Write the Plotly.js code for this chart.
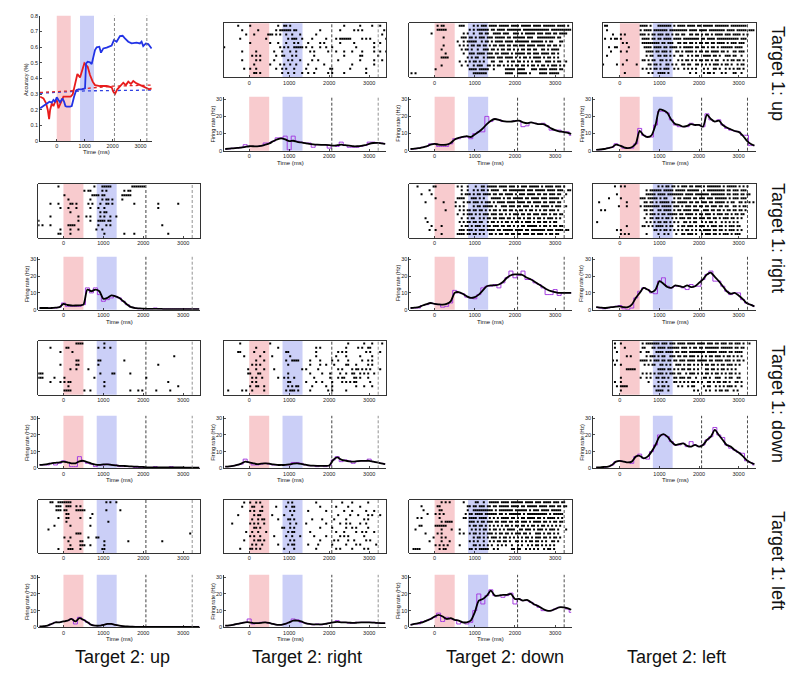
<!DOCTYPE html>
<html><head><meta charset="utf-8">
<script src="https://cdn.plot.ly/plotly-3.0.1.min.js"></script>
<style>html,body{margin:0;padding:0;background:#fff}#chart{width:800px;height:678px}</style>
</head><body><div id="chart"></div>
<script>
// ---------------- DATA ----------------
const TICKS_MS = [0, 1000, 2000, 3000];
const RATE_TICKS = [0, 10, 20, 30];
const ACC_TICKS = [0, 0.1, 0.2, 0.3, 0.4, 0.5, 0.6, 0.7, 0.8];
const ROW_LABELS = ['Target 1: up', 'Target 1: right', 'Target 1: down', 'Target 1: left'];
const COL_LABELS = ['Target 2: up', 'Target 2: right', 'Target 2: down', 'Target 2: left'];
const EPOCHS = {cue1: [0, 500], cue2: [833, 1333], delayArrow: [1375, 1817], go: 2065, end: 3225};

// accuracy panel
const ACC_BLUE_T = [-595,-476,-357,-262,-179,-119,-60,0,60,119,202,262,310,357,476,536,619,690,774,893,1012,1048,1107,1190,1250,1310,1369,1429,1524,1583,1667,1786,1964,2048,2143,2262,2357,2440,2560,2679,2857,2976,3036,3095,3190,3274,3393];
const ACC_BLUE = [0.209,0.223,0.240,0.251,0.245,0.262,0.251,0.279,0.262,0.247,0.272,0.251,0.223,0.219,0.219,0.223,0.283,0.321,0.330,0.330,0.336,0.496,0.506,0.502,0.491,0.538,0.581,0.598,0.602,0.564,0.591,0.596,0.609,0.645,0.634,0.670,0.672,0.655,0.634,0.623,0.628,0.623,0.634,0.606,0.623,0.619,0.591];
const ACC_RED_T = [-595,-476,-381,-321,-274,-238,-179,-119,-60,0,60,143,238,357,500,571,655,738,833,929,988,1048,1107,1190,1286,1369,1548,1786,1964,2024,2083,2167,2262,2381,2476,2560,2655,2738,2857,2976,3095,3214,3310,3393];
const ACC_RED = [0.283,0.272,0.240,0.198,0.140,0.198,0.240,0.223,0.251,0.262,0.209,0.240,0.283,0.283,0.283,0.298,0.372,0.428,0.406,0.464,0.496,0.485,0.474,0.421,0.379,0.357,0.351,0.351,0.343,0.315,0.300,0.330,0.351,0.372,0.357,0.379,0.364,0.383,0.368,0.357,0.351,0.336,0.330,0.336];
const CHANCE_RED_T = [-600, 500, 1000, 2000, 3400];
const CHANCE_RED = [0.310, 0.320, 0.335, 0.350, 0.357];
const CHANCE_BLUE_T = [-600, 1000, 3400];
const CHANCE_BLUE = [0.305, 0.320, 0.325];
const ACC_MARK_T = [1800];
const ACC_MARK = [0.805];

// firing-rate time grid (ms)
const RATE_TIME = [-600,-500,-400,-300,-200,-100,0,100,200,300,400,500,600,700,800,900,1000,1100,1200,1300,1400,1500,1600,1700,1800,1900,2000,2100,2200,2300,2400,2500,2600,2700,2800,2900,3000,3100,3200,3300,3400];

const RATE_UP_RIGHT = [1,1.2,1.4,1.6,1.8,2.2,2.6,2.6,2.5,2.8,3.5,4.2,5.5,6.6,7.2,6.6,5.6,5.8,5.2,4.8,4.4,4,3.7,3.5,3.4,3.4,3.3,3,3.2,3.5,3.2,3,2.6,2.6,2.8,3.2,4,4.5,4.6,4.3,4];
const HIST_UP_RIGHT = [1,1,1.5,1.5,2,3.5,2.5,2.5,2.5,3,4.5,4.5,5.5,7.5,7.5,8.5,0.5,8.5,5.5,5,4.5,4.5,2,3.5,3.5,3.5,1.5,3,2.5,5,3,2,2,2,2.5,3,5,5,4.5,4.5,4];
const RATE_UP_DOWN = [1,1.2,1.5,2,2.5,3.5,4,3.6,3.4,3.5,4.5,6.5,7.5,8,8.5,8,9.5,11,13,15.5,17.5,18.5,18,17.3,17,17,17.3,17.5,16.5,16,16.5,16,15.5,15.5,14.5,13,12,11.3,11,10.5,9.8];
const HIST_UP_DOWN = [1,1,1.5,2,2.5,4,4,2.5,2.5,2.5,4,7,7,8,8,7,10,11,11,20,17,18.5,18,17,17,17,17.5,17.5,14,14.5,16.5,16,15.5,16,14.5,12,12,12,11,11,9];
const RATE_UP_LEFT = [0.5,0.7,1,1.5,2,3.5,3,2,1.5,2,4,11.5,9,8,9,15,24,23.5,22,18,15.5,15,14,14.5,15.5,15,15,14,21,18.5,17,17.5,15,13.5,12.5,11.5,11,9,6,4,3];
const HIST_UP_LEFT = [0.5,0.5,1,1.5,2,4,3,1.5,1.5,1.5,4,13,9,8,8,15,23,23,22,18,15,14,14,14,16,15,15,14,21.5,18,17,18,15,13,12,11.5,11,9,9,3,3];
const RATE_RIGHT_UP = [1,1,1,1,1.2,1.5,3.5,2.8,2.5,2.5,2.6,3,12,11,12,11,6.5,7,8.5,8,7,5,3,1.5,1,0.8,0.6,0.5,0.5,0.5,0.5,0.4,0.4,0.4,0.4,0.4,0.4,0.4,0.4,0.4,0.4];
const HIST_RIGHT_UP = [1,1,1,1,1,1.5,4,2,2,2,2,3,13,10,13,9,5,6,7,8,7,5,3,1.5,1,0.5,0.5,0.5,0.5,1,0.5,0.5,0.5,0.5,0.5,0.5,0.5,0.5,0.5,0.5,0.5];
const RATE_RIGHT_DOWN = [1,1.2,1.5,2.5,3.3,4,3.5,3.2,3,3.5,5,10,10.5,9.5,8,7,7.5,9,11.5,14,14.5,14.5,15,16.5,19,20.5,21,21,20.5,19,18,16.5,15,13.5,12,11,10.5,10,10,10,10];
const HIST_RIGHT_DOWN = [1,1,1,2.5,3,4,3.5,3,1.5,2,4,11.5,10,9.5,7.5,7,6.5,9,13,14,14,15,13,16,19,23,19,20.5,23,18,18,16,15,13,9,9,12,8.5,10,10,10];
const RATE_RIGHT_LEFT = [1.5,1.3,1,1.2,1.5,1.8,2,1.5,1.5,3,7,10,13,12,10.5,12,17,15.5,13.5,13,14.5,14,13.5,14.5,13.5,14,16,18,21,22,19.5,17,14,11,9.5,10,8.5,6.5,4,3,2];
const HIST_RIGHT_LEFT = [1.5,1,0.5,1,1.5,2,2.5,0.5,0,1,7,11,13,12,10,9.5,17,19,14,13,14,14,13,12,15,14,14,18,21,23,17,17,14,11,9,10,10,6,4,3,2];
const RATE_DOWN_UP = [2,2.2,2.5,3,3.3,3.6,4,3.6,3,3,4.2,4.5,3.7,2.8,2.2,2,2.3,2.4,2.1,1.8,1.5,1.4,1.3,1.1,1,0.9,0.8,0.6,0.5,0.5,0.5,0.5,0.5,0.5,0.5,0.5,0.5,0.4,0.4,0.4,0.4];
const HIST_DOWN_UP = [2,2,2,3,2,3,4.5,3.5,1,1,7,4,3,2.5,1,2,2,2.5,2,2,1,1,1,1,0.5,0.5,0.5,0.5,0.5,1,0.5,0.5,0.5,1,0.5,0.5,0.5,0.5,0.5,0.5,0.5];
const RATE_DOWN_RIGHT = [1,1.2,1.5,2,2.8,4,3.6,3,2.5,2.8,3,2.8,2.3,2,2,2,2.3,2.8,3,2.7,2.2,1.8,1.6,1.5,1.5,1.5,1.7,5,6.5,5.2,4.6,4.2,4,4.3,4.5,4.5,4.5,4,3.5,3,2.5];
const HIST_DOWN_RIGHT = [1,1,1.5,2,2.5,5.5,3.5,2,2,2.5,3,2.5,2,2,2,2,2,3.5,3.5,3,2,1.5,1.5,1,1.5,1,1.5,5,7,4,5,4.5,3,4,4.5,4.5,5.5,4,3.5,3,2.5];
const RATE_DOWN_LEFT = [0.5,0.6,0.8,1,2,4,4.5,4,3.5,4,7,7.5,6,7,10,14,19,20.5,19,16,14,14.5,15,13.5,13,14,13,14,17,19,23,20,17,14,13,11,9.5,7.5,5,3.5,2.5];
const HIST_DOWN_LEFT = [0.5,0.5,0.5,1,2,4,4.5,4,3.5,3,7,8.5,6,5.5,10,14,20,20,19,16,14,14,15,13,16,14,13,14,17,19,24.5,20,18.5,14,12,11,9.5,9,4.5,3.5,2];
const RATE_LEFT_UP = [0.5,0.7,1,2,3,3,3.5,4,5,3.5,5.5,4.5,3,1.5,1,1,1.5,2,2,1.5,1,0.7,0.5,0.4,0.3,0.3,0.3,0.3,0.3,0.3,0.3,0.3,0.3,0.3,0.3,0.3,0.3,0.3,0.3,0.3,0.3];
const HIST_LEFT_UP = [0.5,0.5,1,2,3,3,3.5,4,5,2,6,4.5,3,1.5,1,1,1.5,2,2,1.5,1,0.5,0.5,0.5,0.5,0.5,0.5,0.5,0.5,0.5,0.5,0.5,0.5,0.5,0.5,0.5,0.5,0.5,0.5,0.5,0.5];
const RATE_LEFT_RIGHT = [1,1.2,1.5,2,2.5,3,3,2.5,2.5,2.7,3,2.6,2,1.5,1.5,2,3,4,4,3.5,2.5,2,1.8,1.8,1.8,2,2.5,3,3.2,3,3,2.8,2.6,2.8,3,3,3,2.8,2.6,2.5,2.5];
const HIST_LEFT_RIGHT = [1,1,1.5,2,2.5,3,5,2,2.5,3,3,2.5,2,1.5,1.5,2,3,5,4.5,3,2.5,2,1.5,2,1.5,2,2.5,3,4,3,3,2.5,2.5,3,3,3,3,3,2.5,2.5,2.5];
const RATE_LEFT_DOWN = [1.5,2,2.5,3,4,5,6.5,7.5,6.5,5,5.5,4.5,4,3,3,4,9,16,17,19,22,19,19,19.5,19.5,20,17,17,16,16.5,15,13.5,12.5,11,10,10,11,12,12,11.5,10.5];
const HIST_LEFT_DOWN = [1.5,2,2,3.5,4,5,6,8.5,3.5,6,5,4.5,2,3,2,3,10,20,14,19,22.5,19,19,18,19,20.5,14,17,16,16,15,13.5,12,10,10,10,11,12,12,11,9];

// rasters: one string per trial, 50 ms bins starting at -650 ms, '1' = spike.
// groups: [-650,0) [0,500) [500,850) [850,1350) [1350,2050) [2050,3250) [3250,3450)
const RASTER_UP_RIGHT = [
".......1..... 1......... ....1.. 11.1...... . ......1.......1.....1... 1...",
".........1... ....1..... ...1.11 1111.11... ........1..... ....1......1.1.1........ ..1.",
"...........1. ..1......1 11.1.1. .1..1...1. ......1....... . .1..",
"........1.... ........1. . ..1.111..1 ....1......1.. ..1.111111.....1.1.1.... ...1",
". 1......... 1...1.. .1...1.1.. ..1.....1.1... ....1......1.........1.. 1...",
"1............ . .....1. 1.1..11111 .1..1...1..1.. 1...........1........1.. .",
".........1... ...1...... ..1...1 ...1..1... ...1.1......1. ..1...1...1....1.....1.. 1..1",
". .1.1.1.... ...1..1 1...1.1... .....1........ ......1.......11.......1 .",
".........1... ...1.1.... ..1.... ..1.1...1. ....1..1...... ...1..........1......1.. .1..",
". ..1....... 1....1. 1..1..1... ..1.......1... ..........1..........1.. .",
"..........1.. 1..1...... ...1..1 .1...1.... .1....1......1 1........1.......1...... .",
". ..11.1.... ......1 ..1..1...1 ..1..1......1. 1.....1..........1...... ."];
const RASTER_UP_DOWN = [
". .1.11..... ..111.. ..1.1.111. 1111.11111.111 1.11111.1111.111111.1111 .1..",
". .11111.... . 1.1.111111 .11.1111.11111 11.1111111111111.1111111 111.",
"...........1. . ....1.1 ..1..11.11 ..1111.111..11 1.1.11111.111.111.11.111 1...",
". ....1..... ...111. 11.1.111.1 11.11111.11.11 1111.111..111111111.11.. .",
". . .1..1.1 1111..1.11 .1.1111.1111.1 111111.111111.1.11...11. .",
". ....1..... ..1.1.1 .11.11.11. 1.11.111.11.11 .111.1111.1111.11.11.1.. .",
". ...1...... ...1.11 .1..1..111 .11.1.11.11.1. 1.11.11.11..11.1.1111... .",
". .....1.... ....1.. 111.1111.1 11.11.1111.1.1 1111.11.111.1111.11.1... .",
". ...1111... ......1 .1.11..1.1 111.111.1111.1 .1.11.1.1111.1.11.1.1... .",
". . ..1..1. 1.11.1.1.. .11..11..1.11. 11.1.1.1.111..111.1.11.. 1...",
". ...1...... ...1..1 ..1.111..1 1.1.11.1.1.1.1 1.11.1.11.1.11.1.111.1.1 .",
". 1......... . 1111.11111 ..1.....11111. 1111...111.1111.1111.11. .",
".1.1......... . . ..1111111. ........1111.. 11111.1....1111.11111... ."];
const RASTER_UP_LEFT = [
".....11...... . 1111.1. ..1111111. 1.1111.1111.11 .11111.1111111.11111111. .",
"......1...... . 1.1111. 1111111.11 1111111.1111.1 111.11111111.1111.11111. 111.",
".........1... 1.1....... 111.1.1 1.111.11.1 .11.11..11.11. 1.11.1.1111.111.1111.1.1 .",
".....1..1.11. 1......... .1111.1 1.11.1111. 1111.11111111. 11.1111.11111111111.111. .",
". .1.1...... .111111 111.11.111 ..11.11.11.1.1 1.11.11.1111.1.111.111.. .",
".......1..11. ....1..... ..1111. 1111.11.11 11.1.11111.11. 11.1.11.1.111111.1111... .",
"........1.... 1..1...... ...1111 .11.111.1. .11.1.1111.1.1 1.11.1111.11.1..11.111.. .",
"......1...... . ...1.11 ..11.11.1. 1..11..1.1.11. .1111.11.1..111.11..1... .",
". ...1...... .11.1.1 1..11.1.1. ..1.1.11.1.1.1 1.11.1.11..1.1.11.11.1.. .",
"....1......1. .1......1. ....11. 11.1..11.1 .1..11.11..11. 1.1.1.111.1.11.1..1.11.. .",
". . .1.1.1. 11.1.111.. 1.1..1.1.1.1.. .1.1..11.1..1.1.1.11.1.. .",
". ..1....... ....1.1 ..1111.1.. ........1..1.. .1.11.1...1.1...11..1... ."];
const RASTER_RIGHT_UP = [
"..........1.. . .....1. ..11111... .......1111111 .",
". . 1.11... ..1.1..... ...1.11....... .",
". 1......... ....111 1.11...... ..11111....... .",
". ..1....... ...1... ..1.11.1.. ..1........... .",
"......1...1.. ...11.1... ..1.1.. .1..11.1.. ........1..... ......1.........1....... .",
"...........1. ..1...1... ...1... 1..1...... . ......1................. .",
". ...1...... . .1.11..... . .",
"......1...... .......1.. .1.1... .1.1..1..1 . .",
"1............ .......1.. ...1... 1111.11... . .",
"1.1...1...... ..1111.... . 1...1.1... . ........1............... .",
"...........1. ...1...1.. ......1 ..1....... . .",
"..........11. ...1...... . ...1...... ...1....1..... ...........1............ ."];
const RASTER_RIGHT_DOWN = [
"....1.......1 1......... .1.1..1 ...1..11.1 1111.1111.111. 1.111.11111.1.1111.111.1 .",
"..........1.. . ...1..1 ..1.1.11.1 .1111..11.1111 1111.111.11111.1111.111. .11.",
"......1....1. . ...1.11 1.1.11.111 1.11.11.1111.1 .111.1111.11.11.111.11.. 1...",
". 1......... .1111.. .111.1.1.. .11111.1.11.11 111.11.1111.111.11111.1. .",
"........1.... ....1..... 1...1.1 1.111.1.11 1.1.1111.1111. 1111.11.1111.11.111.11.. .",
". . 1.1.1.. ..1.11.111 11.1..111.111. 11.111.1.11.1111.1.111.. 1...",
". .....1.... ..1.1.1 1.11.11.1. 1.11.1.11.11.1 .11.1.11.1.1.11.111.1... .",
". . .1..1.1 11.1.1.111 .111.11.1.1.11 1.11.11.111.111.1.11.11. .",
"........1.... . ...1..1 .11..1.1.1 1.11.111.11.1. 11.1.11.1.11.1.111.1.1.. .",
".........1... . ..1.1.1 1.11.11..1 .11.1.1.11.1.1 1.1.111.1.11.11.1.11.... .",
"...........1. ...1...... ...1.11 .1.111.1.1 1.111.11.11.1. 1.11.11111.1.11.1.11.11. .",
"..........1.. 1......... ..111.1 11.1.111.1 111.11.11111.1 111.11.1111111.111.1111. 11..",
". ...1...... .1111.1 1.11.1.1.. 11.1.11.11.11. 11.111.11.111.1.11.11... ."];
const RASTER_RIGHT_LEFT = [
"..........1.. 1.1....... . ..1.1.11.1 1.1.111.11.111 .1.1111111.1.11111.1.1.1 .",
". . ...1.11 1111.11111 .11111.111111. .1.111111111.11.111.111. .",
"...........1. . ...1111 1.1111.111 11111.1111.111 1111.1111111.11.111.11.1 1...",
".......1..... 1......... 111.111 11.1.11... 1.11.1111.11.1 11.111.111111.1.111.111. .",
"..1.......... ...1...... ..11.11 .1.11111.1 1.11111.11.11. 111.11.11111.1.11..11.1. 1.1.",
"............1 ...1...... 1.11111 111.11111. 111.1.111.11.1 1.11.111.11.11..11.1.11. .",
"...1.1....... . ..11.11 ..11.1111. 1.11.1111.111. .111.11.11.1.11.11.11.1. .",
". . ...1.11 1.1.11.111 11.11.1111.1.1 1.111.1.111.11.1.11.11.. .",
". . ..1..11 .11.1.11.1 .1.111.11.11.1 11.11.11.1.111.11.1.1... .",
".1........... . ...1.1. 1.11.11.1. 1.1..11.1.11.. 1.1.11.1..1.1.1.1.1..... .",
". ...1...... .11.1.1 .1111.1.11 ..1.11.111.1.1 11.1.111.11.1.111.11.... .",
"...........1. 1......... . 11.1.11.1. 1.1.1.11.1.1.1 .1111.11.11.1.111.1.1... .",
". 1.1.1..... ...1... ..1..1.1.. .1..11.111.1.. 1.111.11.1.111.1.111.... ."];
const RASTER_DOWN_UP = [
". ......1111 . ...1...... . .",
"......1...... .11....... . 1..1..1... . .",
"...........1. ....1..... . . . .",
". . . . . ..............1......... .",
". ......11.. . 11........ ...1.......... .",
"...........1. ......11.. . 1......... . ......1................. .",
". ...1..1... ..1.... . . .",
"111.......... . . .1.....11. ......1....... .",
"111.....1.... 1......... .....1. . . 1....................... .",
"......1....1. 1.11...... . ...1...... . ...........1............ .",
". ..1....... . ...1...... . ................1....... .",
". 1111...... 1..1... . ......1...1.1. .....1......1.......... ."];
const RASTER_DOWN_RIGHT = [
"........1.... . 1...... . . ........1.......1...1... .1..",
". ...1...... ....1.. . ......1.1..... .......1.....1.1..11... .",
".......11.... ..1....1.. . .11....... ......1....... ...1.1.1.........1.1... 1...",
"..........1.. .....1.... .1..... ...1...... ......1....... ..1....1......1.....1... .",
". ...1...1.. . .1..1111.. ...1....1..... 1..1....1......1..1.1... .",
". .1.1.1.... . ..1....... ...1....1..1.. .1.....11...1.....1.1... .",
"............1 ...1...1.. ..1.... .........1 .1.....1...... ...1.1....1.11.1.1.1.... 1...",
"............1 1...11.... . ..1....... ...1.....1...1 ....1..1..11..1.1.1..1.. .",
". .1.1..1... ....1.. 1.1..1.... .....1.......1 ...1.11....11.1...1..... .",
". .1.1...... . ..11...... .1....1..1.... 1....1.1.1.11......1.... .",
". 1..11..1.. . ..1.1.11.. ....1......1.. 1...........1...1...1... .",
"..1......1.1. .1.....1.. . .1.111.1.. ...1........1. 1......1............... ."];
const RASTER_DOWN_LEFT = [
"..........1.. 1......... .1.1111 111.111.11 1.1111.1111.11 11.111.11.111.11.111.1.. 1...",
"..........1.. ..1....... .11...1 1.1111.111 111.111.1.11.1 1.1111111.111111.11.11.. .",
"...........1. . 1..11.. .1111.1111 .11.111.111111 11.11111.1111.11.1111... .",
". ...1.1.... ...1.11 1.1.11..11 1.11.11.111.1. 1.1.11.111.1.11.1.1.1... .",
".........1.1. . 1111.1. 111.11.11. 11.111.1111.11 111.11.1111.111.1.11.1.. .",
"..........1.. 1......... ..1.1.1 1..11.1.1. .111.1.11.1.1. 1.11.11.1.11.111.1.1.... .",
". ...11111.. . ..1111.11. 1.1.11.11.1.1. ..11.11.1.11.1.1.1...... .",
". . .1.1.1. 1.111.1.11 1.11..1.111.1. 1.11.1.11.1.1.11.1.1.... .",
". 1......... 1..1.1. .11.11.1.. 11.111.11..1.. .11.1..111..1.11..11.... .",
"..........1.. 1......... ....1.. ..1.1.1... 11.1.1.1.11.1. 1..11.1.11.11.1..11.1... .",
"...........1. 1111...... . 1.1.11.1.. ..1.1..1.11... .1.11..1.1.1.111.1..1... .",
". 1......... . .1111..1.. ..........1.1. ..1.1..1.11.11..1.1..... ."];
const RASTER_LEFT_UP = [
"......11..111 1111...... . ....1.1..1 . .",
".........111. .111..1.1. . . . .",
".........111. 11....1111 1...... ....1..... .1............ .",
". .11....... ....1.. . . .",
"..........1.. .11.....1. ...1... . . .",
". .1........ . .....1.... . .",
"........1.... ...1...... ...1... . . .",
".....1....... . . . . .",
". ......111. . . . ......................1. .",
". 1..1...... ..1...1 1......... . .",
". ..1.....11 . ...1...... .....1........ ........1............... .",
". ...1....11 1..1... ...1...... . .",
"..........1.. ..111...1. . ..11...... . ."];
const RASTER_LEFT_RIGHT = [
"..........1.. 1..1.1.... . ..1.1..... ......1....... .....1....1.......1..... .",
".........1... .11...1... ...1... .1..11.... ........1..... ..1.....1.....1......... .",
". 1.1..11... . ...1.1.... ..1........1.. ......1...1......1...1... .",
".......1..... ..1.11.... .1..... 1...1..... . ...1.....1...1....1.1... 1...",
". .1..1.11.. ....1.. ..11.1.... ....1....1.... .1.....1........1.1..... .",
"....1........ 1.1.1..1.. . ...1..1... .1.........1.. ....1..1.1....1..1..... .",
". ..11.1.... ......1 1..1.1.... ........1..... 1......1..1.1.....1..... .",
"...........1. .1..1...1. . ..1.11.... ...1.......... ..1...1.....1..1.1...1.. .",
". 1.1..1.... ..1.... .1..1...1. .....1.....1.. ....1.1.1.......1....... .",
"..........1.. ..1.11.1.. . ...1.1.... ........1..... .1.1....1..1.....1.1... .",
". .1.1..1... ....1.. ..1.11.... ..1....1...... 1......1....1.1.......1. .",
"........1.... 11.1.1.... . 1....1.... ......1....... ..1.1.....1.....1.1..... ."];
const RASTER_LEFT_DOWN = [
". ...1.1.1.. ....1.. ...11..1.. 11111.1111.111 111.1111.111.1111.111.11 .",
"......1...... .11....... ......1 1.11.111.1 1.11.11111.111 1.11.11111.1111.111.11.1 1...",
".......1..... ..11...... ......1 ..11111111 11.1.1111111.1 11111.1.111.1111.11111.. .",
".........1... 1.1.1..... .....1. 11.1111.11 1111.11.1.1111 11.1.1111111111.1.11111. .",
"....1.1...... ..1....... ....11. 1111.1111. 1.1.1.1111.11. 1.11.1111.11.1.1111.1.1. .",
". ...1.1111. . 111.1.11.1 11.11.111.11.1 1.111.1.1111.11.1.11.11. .",
".....11...... 111111.... . 1.11.11.1. 1.1.1.1.11.1.1 1.11.1.11.1.11.1.1.1.1.. .",
"...1......... ...1....1. ..1.... .1.1.1.11. 1.11.1.1.1111. .11.111.1.111.1.111.1... 1...",
"........1.... .1.1...... ..1.1.. 1.11.1.1.1 11.1.11.11.1.1 11.11.1..111.1.11.1.1... .",
"............1 ...1.1.... . ..1.11.1.1 .111.1.11.1.1. 1.1.11.1.111.11.1.11.1.. .",
"..........1.. ...1...1.. . 1.1.1..1.. 1.1.11.11.1..1 1.1.1.11.11.1.1..11.1... .",
". 1.1.1.1... ..1.... ..11.1.1.1 .1..1.1.1..1.. 1.1..1.1.11.1.1.1.1..... .",
"..1111....... ..1.11.... . 11.1.11111 ..1.1......11. 11..1.1.1.1..1.11.1...... ."];

// ---------------- LAYOUT HELPERS ----------------
const W = 800, H = 678;
const SEG_LEN = [13, 10, 7, 10, 14, 24, 4];
const BIN0 = -650, BINW = 50;
const ROWGEO = [
  {rt: 23.3, rb: 77.3, top: 96.7, zero: 150.7},
  {rt: 184, rb: 238, top: 256.8, zero: 309.7},
  {rt: 341, rb: 394.7, top: 415.8, zero: 468.3},
  {rt: 500, rb: 553, top: 574.8, zero: 627.3}];
const COLGEO = [
  {l: 38.3, r: 200, xr: [-630, 3420], timeX: 119},
  {l: 224, r: 386, xr: [-630, 3420], timeX: 290},
  {l: 409.3, r: 572, xr: [-630, 3420], timeX: 490},
  {l: 593, r: 756, xr: [-680, 3440], timeX: 675}];
const RASTER_LEFT = {'0,3': 603, '1,3': 593, '2,3': 612.7};
const PANELS = [
  {r: 0, c: 1, raster: RASTER_UP_RIGHT, rate: RATE_UP_RIGHT, hist: HIST_UP_RIGHT},
  {r: 0, c: 2, raster: RASTER_UP_DOWN, rate: RATE_UP_DOWN, hist: HIST_UP_DOWN},
  {r: 0, c: 3, raster: RASTER_UP_LEFT, rate: RATE_UP_LEFT, hist: HIST_UP_LEFT},
  {r: 1, c: 0, raster: RASTER_RIGHT_UP, rate: RATE_RIGHT_UP, hist: HIST_RIGHT_UP},
  {r: 1, c: 2, raster: RASTER_RIGHT_DOWN, rate: RATE_RIGHT_DOWN, hist: HIST_RIGHT_DOWN},
  {r: 1, c: 3, raster: RASTER_RIGHT_LEFT, rate: RATE_RIGHT_LEFT, hist: HIST_RIGHT_LEFT},
  {r: 2, c: 0, raster: RASTER_DOWN_UP, rate: RATE_DOWN_UP, hist: HIST_DOWN_UP},
  {r: 2, c: 1, raster: RASTER_DOWN_RIGHT, rate: RATE_DOWN_RIGHT, hist: HIST_DOWN_RIGHT},
  {r: 2, c: 3, raster: RASTER_DOWN_LEFT, rate: RATE_DOWN_LEFT, hist: HIST_DOWN_LEFT},
  {r: 3, c: 0, raster: RASTER_LEFT_UP, rate: RATE_LEFT_UP, hist: HIST_LEFT_UP},
  {r: 3, c: 1, raster: RASTER_LEFT_RIGHT, rate: RATE_LEFT_RIGHT, hist: HIST_LEFT_RIGHT},
  {r: 3, c: 2, raster: RASTER_LEFT_DOWN, rate: RATE_LEFT_DOWN, hist: HIST_LEFT_DOWN}];

const FONT = 'Liberation Sans, Arial, Helvetica, sans-serif';
const PINK = '#f8cbce', BLUE = '#cbcff7';
const layout = {width: W, height: H, margin: {l: 0, r: 0, t: 0, b: 0}, showlegend: false,
  paper_bgcolor: '#fff', plot_bgcolor: 'rgba(0,0,0,0)', font: {family: FONT, size: 6, color: '#222'},
  shapes: [], annotations: []};
const traces = [];
let nAx = 0;
const tickFont = {family: FONT, size: 5.5, color: '#222'};
function baseAxis() {
  return {showgrid: false, zeroline: false, showline: true, linecolor: '#000', linewidth: 0.8,
    ticks: 'inside', ticklen: 2, tickwidth: 0.7, tickcolor: '#000', tickfont: tickFont, fixedrange: true};
}
function newAxes(xpx, ypx, xo, yo) {
  nAx++;
  const s = nAx === 1 ? '' : String(nAx);
  layout['xaxis' + s] = Object.assign(baseAxis(), {domain: [xpx[0] / W, xpx[1] / W], anchor: 'y' + s}, xo);
  layout['yaxis' + s] = Object.assign(baseAxis(), {domain: [1 - ypx[1] / H, 1 - ypx[0] / H], anchor: 'x' + s}, yo);
  return s;
}
function addEpochs(s, grayEnd) {
  const xr = 'x' + s, yr = 'y' + s + ' domain';
  layout.shapes.push({type: 'rect', xref: xr, yref: yr, x0: EPOCHS.cue1[0], x1: EPOCHS.cue1[1], y0: 0, y1: 1, fillcolor: PINK, line: {width: 0}, layer: 'below'});
  layout.shapes.push({type: 'rect', xref: xr, yref: yr, x0: EPOCHS.cue2[0], x1: EPOCHS.cue2[1], y0: 0, y1: 1, fillcolor: BLUE, line: {width: 0}, layer: 'below'});
  layout.shapes.push({type: 'line', xref: xr, yref: yr, x0: EPOCHS.go, x1: EPOCHS.go, y0: 0, y1: 1, line: {color: '#111', width: 0.8, dash: '3px,2px'}});
  layout.shapes.push({type: 'line', xref: xr, yref: yr, x0: EPOCHS.end, x1: EPOCHS.end, y0: 0, y1: 1, line: {color: grayEnd ? '#777' : '#222', width: 0.8, dash: '3px,2px'}});
}
function addText(text, xpx, ypx, size, angle) {
  layout.annotations.push({text: text, xref: 'paper', yref: 'paper', x: xpx / W, y: 1 - ypx / H,
    xanchor: 'center', yanchor: 'middle', showarrow: false, textangle: angle || 0,
    font: {family: FONT, size: size, color: '#111'}});
}
function parseTrial(s) {
  const segs = s.split(' ');
  let out = '';
  SEG_LEN.forEach((L, i) => {
    let g = (segs[i] || '').replace(/[^1.]/g, '');
    g = g.length < L ? g + '.'.repeat(L - g.length) : g.slice(0, L);
    out += g;
  });
  return out;
}

// ---------------- ACCURACY PANEL ----------------
(function () {
  const s = newAxes([40, 152.3], [15.7, 141],
    {range: [-600, 3420], tickvals: TICKS_MS},
    {range: [0, 0.8], tickvals: ACC_TICKS, ticktext: ACC_TICKS.map(v => String(v))});
  addEpochs(s, true);
  layout.shapes.forEach(sh => { if (sh.type === 'line' && sh.xref === 'x' + s) sh.line.color = '#666'; });
  traces.push({type: 'scatter', mode: 'lines', x: CHANCE_BLUE_T, y: CHANCE_BLUE, xaxis: 'x' + s, yaxis: 'y' + s, line: {color: '#3040e0', width: 1.3, dash: 'dot'}});
  traces.push({type: 'scatter', mode: 'lines', x: CHANCE_RED_T, y: CHANCE_RED, xaxis: 'x' + s, yaxis: 'y' + s, line: {color: '#e02828', width: 1.3, dash: 'dot'}});
  traces.push({type: 'scatter', mode: 'lines', x: ACC_RED_T, y: ACC_RED, xaxis: 'x' + s, yaxis: 'y' + s, line: {color: '#e81c1c', width: 1.8}});
  traces.push({type: 'scatter', mode: 'lines', x: ACC_BLUE_T, y: ACC_BLUE, xaxis: 'x' + s, yaxis: 'y' + s, line: {color: '#2233e6', width: 1.8}});
  traces.push({type: 'scatter', mode: 'markers', x: ACC_MARK_T, y: ACC_MARK, xaxis: 'x' + s, yaxis: 'y' + s, cliponaxis: false, marker: {symbol: 'triangle-down', size: 7, color: '#000'}});
  addText('Accuracy (%)', 26, 80, 5.5, -90);
  addText('Time (ms)', 96.5, 151.7, 6, 0);
})();

// ---------------- NEURON PANELS ----------------
PANELS.forEach(p => {
  const rg = ROWGEO[p.r], cg = COLGEO[p.c];
  // raster
  const key = p.r + ',' + p.c;
  const left = RASTER_LEFT[key] !== undefined ? RASTER_LEFT[key] : cg.l;
  const xLo = cg.xr[0] + (left - cg.l) / (cg.r - cg.l) * (cg.xr[1] - cg.xr[0]);
  const n = p.raster.length;
  const s1 = newAxes([left, cg.r], [rg.rt, rg.rb],
    {range: [xLo, cg.xr[1]], tickvals: TICKS_MS, mirror: true},
    {range: [n + 1, 0.4], showticklabels: false, ticks: '', mirror: true});
  addEpochs(s1, p.c < 2);
  const xs = [], ys = [];
  p.raster.forEach((tr, k) => {
    const bits = parseTrial(tr);
    for (let i = 0; i < bits.length; i++) if (bits[i] === '1') { xs.push(BIN0 + BINW * i + BINW / 2); ys.push(k + 1); }
  });
  traces.push({type: 'scatter', mode: 'markers', x: xs, y: ys, xaxis: 'x' + s1, yaxis: 'y' + s1,
    marker: {symbol: 'square', size: 2, color: '#000', line: {width: 0}}});
  // firing rate
  const s2 = newAxes([cg.l, cg.r], [rg.top, rg.zero],
    {range: cg.xr, tickvals: TICKS_MS},
    {range: [0, 31.5], tickvals: RATE_TICKS});
  addEpochs(s2, p.c < 2);
  traces.push({type: 'scatter', mode: 'lines', x: RATE_TIME, y: p.hist, xaxis: 'x' + s2, yaxis: 'y' + s2,
    line: {color: '#a43de0', width: 1, shape: 'hvh'}});
  traces.push({type: 'scatter', mode: 'lines', x: RATE_TIME, y: p.rate, xaxis: 'x' + s2, yaxis: 'y' + s2,
    line: {color: '#000', width: 1.8, shape: 'spline', smoothing: 0.7}});
  layout.annotations.push({xref: 'x' + s2, yref: 'y' + s2, axref: 'x' + s2, ayref: 'y' + s2,
    x: EPOCHS.delayArrow[1], y: 31.6, ax: EPOCHS.delayArrow[0], ay: 31.6, text: '',
    showarrow: true, arrowhead: 2, arrowside: 'end+start', arrowsize: 0.9, arrowwidth: 1, arrowcolor: '#000',
    standoff: 0, startstandoff: 0});
  addText('Time (ms)', cg.timeX, rg.zero + 12, 6, 0);
  addText('Firing rate (Hz)', cg.l - 11.3, (rg.top + rg.zero) / 2, 5.5, -90);
});

// ---------------- GRID LABELS ----------------
const ROW_LABEL_Y = [73, 238, 404, 560];
ROW_LABELS.forEach((t, i) => addText(t, 778, ROW_LABEL_Y[i], 18, 90));
const COL_LABEL_X = [122, 307, 505, 676];
COL_LABELS.forEach((t, i) => addText(t, COL_LABEL_X[i], 657, 18, 0));

Plotly.newPlot('chart', traces, layout, {staticPlot: true, displayModeBar: false});
</script></body></html>
